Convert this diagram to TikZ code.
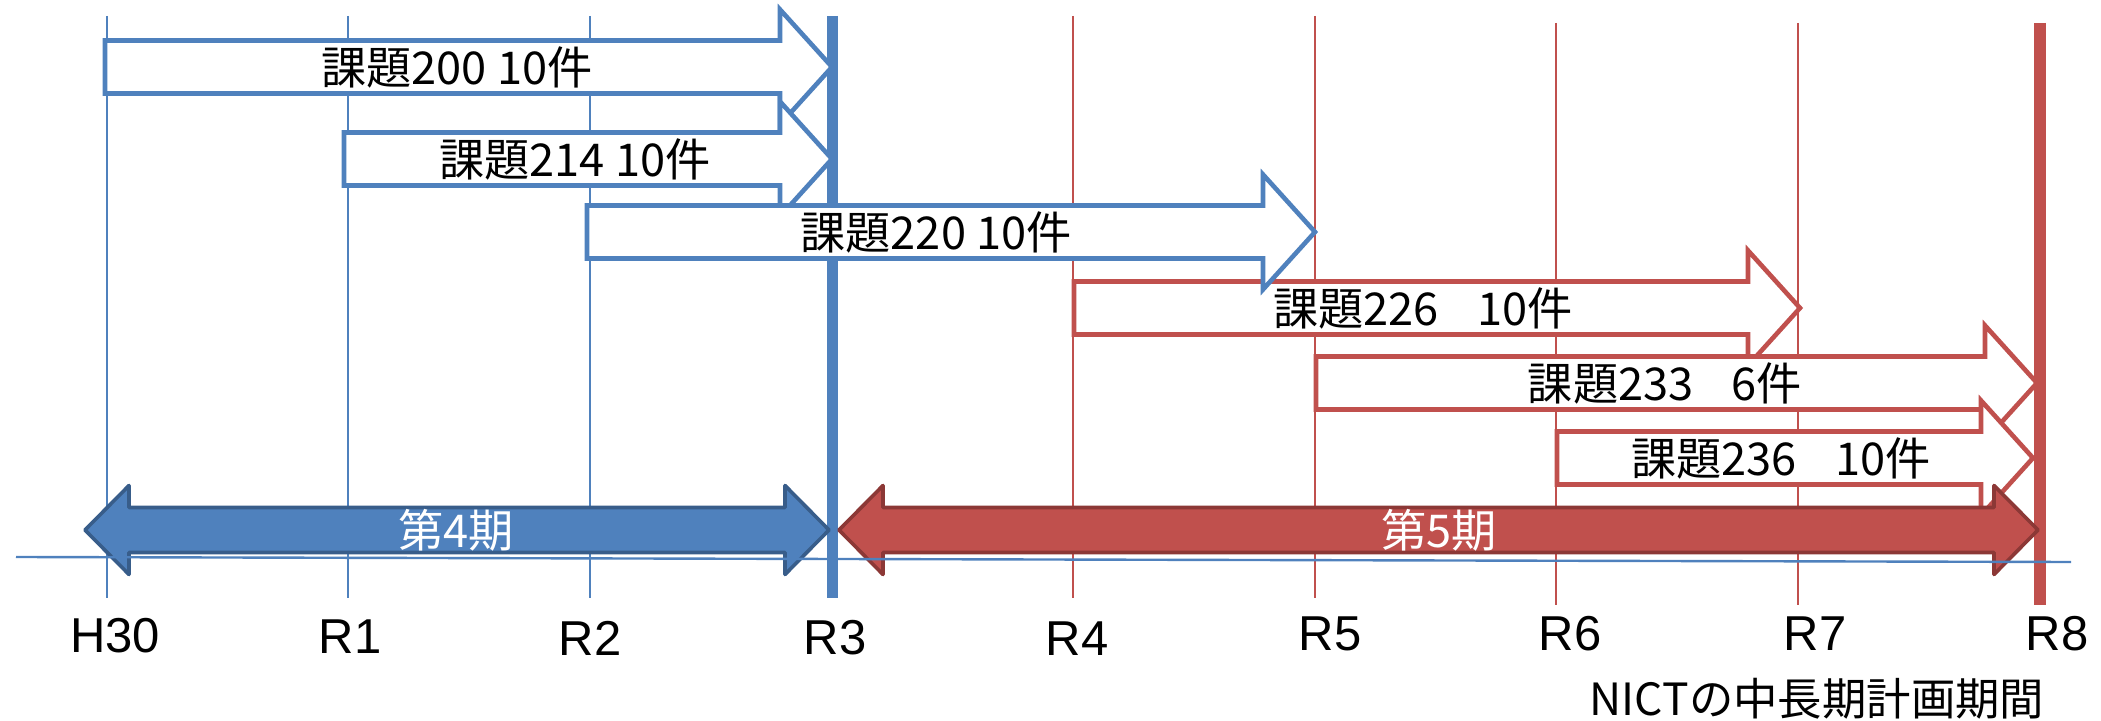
\documentclass[tikz,border=0pt]{standalone}
\usepackage{fontspec}
\setmainfont{Noto Sans CJK JP}
\newfontfamily\labfont{Liberation Sans}
\definecolor{bl}{HTML}{4F81BD}
\definecolor{bld}{HTML}{385D8A}
\definecolor{rd}{HTML}{C0504D}
\definecolor{rdd}{HTML}{8C3836}
\newcommand\taskarrow[7]{% name, colour, x start, x tip, y centre, text x, text
  \draw[taskbox, draw=#2] (#3,{#5-26.5}) -- ({#4-52},{#5-26.5}) -- ({#4-52},{#5-57.5}) -- (#4,#5)
    -- ({#4-52},{#5+57.5}) -- ({#4-52},{#5+26.5}) -- (#3,{#5+26.5}) -- cycle;
  \node[tasklabel] (#1) at (#6,#5) {#7};
}
\newcommand\periodarrow[7]{% name, fill, draw, left tip, right tip, text x, text
  \draw[periodbox, fill=#2, draw=#3] (#4,530) -- ({#4+44},{530-44.5}) -- ({#4+44},{530-22.5})
    -- ({#5-44},{530-22.5}) -- ({#5-44},{530-44.5}) -- (#5,530) -- ({#5-44},{530+44.5})
    -- ({#5-44},{530+22.5}) -- ({#4+44},{530+22.5}) -- ({#4+44},{530+44.5}) -- cycle;
  \node[periodlabel] (#1) at (#6,530) {#7};
}
\tikzset{
  taskbox/.style={fill=white, line width=2.3pt, line join=miter},
  tasklabel/.style={inner sep=0pt, font=\fontsize{22.6pt}{26pt}\selectfont, text=black},
  periodbox/.style={line width=1.8pt, line join=round},
  periodlabel/.style={inner sep=0pt, font=\fontsize{22.6pt}{26pt}\selectfont, text=white},
  thinblue/.style={draw=bl, line width=1pt},
  thinred/.style={draw=rd, line width=1pt},
  yearlabel/.style={inner sep=0pt, font=\labfont\fontsize{24.5pt}{28pt}\selectfont},
}
\begin{document}
\begin{tikzpicture}[x=0.5pt,y=-0.5pt]
\useasboundingbox (0,0) rectangle (2101,721);
% year grid lines
\coordinate (h30t) at (107,16);  \coordinate (h30b) at (107,598);
\coordinate (r1t) at (348,16);   \coordinate (r1b) at (348,598);
\coordinate (r2t) at (590,16);   \coordinate (r2b) at (590,598);
\coordinate (r3t) at (832,16);   \coordinate (r3b) at (832,598);
\coordinate (r4t) at (1073,16);  \coordinate (r4b) at (1073,598);
\coordinate (r5t) at (1315,16);  \coordinate (r5b) at (1315,598);
\coordinate (r6t) at (1556,23);  \coordinate (r6b) at (1556,605);
\coordinate (r7t) at (1798,23);  \coordinate (r7b) at (1798,605);
\coordinate (r8t) at (2040,23);  \coordinate (r8b) at (2040,605);
\draw[thinblue] (h30t) -- (h30b);
\draw[thinblue] (r1t) -- (r1b);
\draw[thinblue] (r2t) -- (r2b);
\draw[thinred] (r4t) -- (r4b);
\draw[thinred] (r5t) -- (r5b);
\draw[thinred] (r6t) -- (r6b);
\draw[thinred] (r7t) -- (r7b);
\draw[draw=bl, line width=5.5pt] (r3t) -- (r3b);
\draw[draw=rd, line width=6pt] (r8t) -- (r8b);
% task arrows
\taskarrow{t200}{bl}{105}{832}{67}{457}{課題200 10件}
\taskarrow{t214}{bl}{344}{832}{159}{575}{課題214 10件}
\taskarrow{t226}{rd}{1074}{1800}{308}{1423}{課題226\hspace{0.85em}10件}
\taskarrow{t233}{rd}{1316}{2037}{383}{1665}{課題233\hspace{0.85em}6件}
\taskarrow{t236}{rd}{1557}{2033}{458}{1781}{課題236\hspace{0.85em}10件}
\taskarrow{t220}{bl}{587}{1315}{232}{936}{課題220 10件}
% period arrows
\periodarrow{p4}{bl}{bld}{85}{829}{456}{第4期}
\periodarrow{p5}{rd}{rdd}{839}{2038}{1439}{第5期}
% time axis
\coordinate (axl) at (16,557);
\coordinate (axr) at (2071,562);
\draw[draw=bl, line width=1.2pt] (axl) -- (axr);
% year labels
\node[yearlabel] (lh30) at (115,636) {H30};
\node[yearlabel] (lr1) at (350,637) {R1};
\node[yearlabel] (lr2) at (590,638) {R2};
\node[yearlabel] (lr3) at (835,638) {R3};
\node[yearlabel] (lr4) at (1077,639) {R4};
\node[yearlabel] (lr5) at (1330,634) {R5};
\node[yearlabel] (lr6) at (1570,634) {R6};
\node[yearlabel] (lr7) at (1815,634) {R7};
\node[yearlabel] (lr8) at (2057,634) {R8};
\node[inner sep=0pt, font=\fontsize{22.2pt}{26pt}\selectfont] (plan) at (1817,699) {NICTの中長期計画期間};
\end{tikzpicture}
\end{document}
